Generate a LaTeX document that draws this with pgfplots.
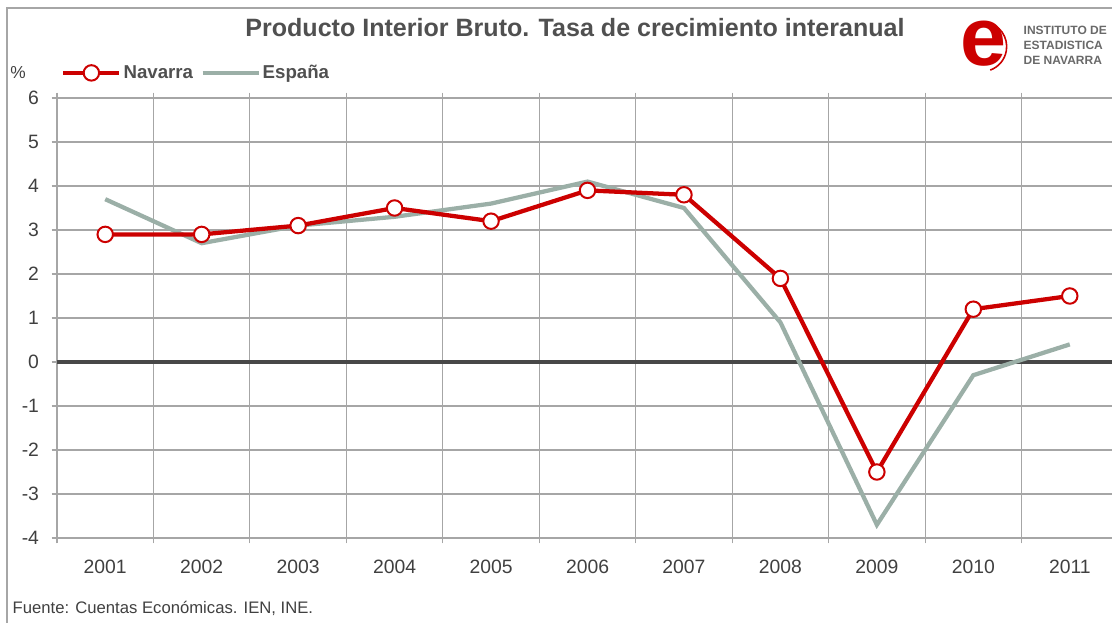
\documentclass[border=0pt]{standalone}
\usepackage{pgfplots}
\pgfplotsset{compat=1.18}
\usepackage{pgfplotstable}
\usepackage{fontspec}
\setmainfont{Liberation Sans}

\definecolor{navred}{RGB}{204,0,0}
\definecolor{espgray}{RGB}{155,175,167}
\definecolor{gridgray}{RGB}{166,166,166}
\definecolor{txtgray}{RGB}{64,64,64}
\definecolor{zerogray}{RGB}{72,72,72}
\definecolor{titlegray}{RGB}{80,80,80}
\definecolor{logogray}{RGB}{105,105,105}

% PIB, tasa de crecimiento interanual (%)
\pgfplotstableread{
x  year  navarra  espana
0  2001   2.9      3.7
1  2002   2.9      2.7
2  2003   3.1      3.1
3  2004   3.5      3.3
4  2005   3.2      3.6
5  2006   3.9      4.1
6  2007   3.8      3.5
7  2008   1.9      0.9
8  2009  -2.5     -3.7
9  2010   1.2     -0.3
10 2011   1.5      0.4
}\pibdata

\begin{document}
\begin{tikzpicture}
\path[use as bounding box] (0pt,0pt) rectangle (834pt,467.25pt);
\begin{scope}[x=0.75pt,y=0.75pt]
% outer frame (top and left visible)
\draw[gridgray, line width=0.8pt] (7,0) -- (7,615) -- (1112,615);
\end{scope}

\begin{axis}[
  at={(42.75pt,63.75pt)}, anchor=south west,
  scale only axis, width=795.75pt, height=330pt,
  xmin=-0.5, xmax=10.5, ymin=-4, ymax=6,
  xtick={0,...,10},
  xticklabels={2001,2002,2003,2004,2005,2006,2007,2008,2009,2010,2011},
  minor xtick={-0.5,0.5,...,10.5},
  xminorgrids, major x tick style={draw=none},
  ytick={-4,...,6}, ymajorgrids,
  tick align=outside, major tick length=4pt, minor tick length=4pt,
  grid style={gridgray, line width=0.8pt},
  minor grid style={gridgray, line width=0.8pt},
  axis line style={gridgray, line width=1.2pt},
  tick style={gridgray, line width=0.8pt},
  ticklabel style={font=\fontsize{14.5}{16}\selectfont, text=txtgray},
  /pgf/number format/assume math mode=true,
  xticklabel style={yshift=-9pt},
  yticklabel style={xshift=-6pt},
  legend style={at={(axis description cs:0.0,1.057)}, anchor=west,
    draw=none, fill=none, legend columns=2,
    font=\fontsize{14}{16}\bfseries\selectfont, text=titlegray,
    nodes={inner xsep=1.5pt},
    /tikz/every even column/.append style={column sep=4pt}},
  legend cell align=left,
  legend image code/.code={
    \draw[mark repeat=2,mark phase=2,#1] plot coordinates {(0pt,0pt) (21pt,0pt) (42pt,0pt)};
  },
]
\addplot[draw=zerogray, line width=3pt, forget plot] coordinates {(-0.5,0) (10.5,0)};
\addplot[espgray, line width=3.2pt, forget plot] table[x=x, y=espana] {\pibdata};
\addplot[navred, line width=3.2pt, mark=*, mark size=5.8pt,
  mark options={fill=white, draw=navred, line width=1.5pt}] table[x=x, y=navarra] {\pibdata};
\addlegendentry{Navarra}
\addlegendimage{espgray, line width=3.2pt}
\addlegendentry{España}
\end{axis}

\begin{scope}[x=0.75pt,y=0.75pt]
% title
\node[font=\fontsize{18.8}{22}\bfseries\selectfont, text=titlegray] at (575,595) {Producto Interior Bruto. Tasa de crecimiento interanual};
% unit
\node[font=\fontsize{13}{15}\selectfont, text=txtgray] at (18,550) {\%};
% logo
\node[font=\fontsize{62}{62}\bfseries\selectfont, text=navred] at (983,579) {e};
\draw[navred, line width=1.2pt] (986,601) arc[start angle=80, end angle=-70, radius=25];
\node[anchor=west, align=left, font=\fontsize{9}{11.3}\bfseries\selectfont, text=logogray] at (1019,578) {INSTITUTO DE\\ESTADISTICA\\DE NAVARRA};
% source
\node[anchor=west, font=\fontsize{12.5}{14}\selectfont, text=txtgray] at (8,15) {Fuente: Cuentas Económicas. IEN, INE.};
\end{scope}
\end{tikzpicture}
\end{document}
